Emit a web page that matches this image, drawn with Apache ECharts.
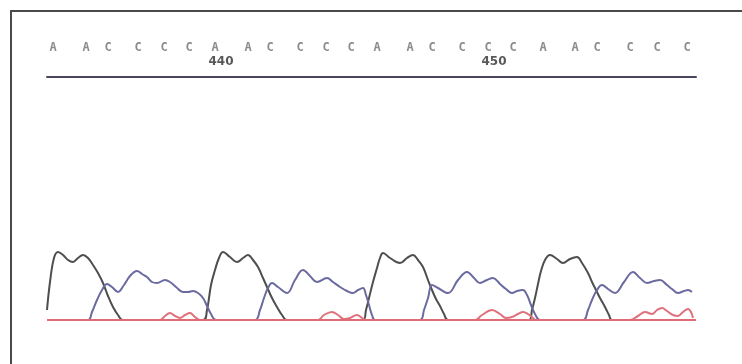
<!DOCTYPE html>
<html><head><meta charset="utf-8">
<script src="https://cdn.jsdelivr.net/npm/echarts@6/dist/echarts.min.js"></script>
<style>html,body{margin:0;padding:0;background:#fff}#c{width:742px;height:364px}</style>
</head><body><div id="c"></div>
<script>
// Base calls and their scan positions
const baseCalls = ['A','A','C','C','C','C','A','A','C','C','C','C','A','A','C','C','C','C','A','A','C','C','C','C'];
const basePos = [53,86,108,138,164,189,215,248,270,300,326,351,377,410,432,462,488,513,543,575,597,630,657,687];
const numberIdx = [6, 16];
const numberLabels = ['440', '450'];

// Trace signals [scan, intensity]
const traceA = [[47,10],[50,38],[54,62],[58,68],[63,65],[68,60],[73,58],[78,62],[83,65],[88,62],[93,55],[98,47],[103,37],[108,24],[113,13],[118,5],[123,0],
 [203,0],[207,10],[211,35],[215,50],[219,62],[223,68],[230,63],[237,58],[243,62],[248,65],[253,60],[258,53],[263,42],[267,33],[272,22],[277,13],[282,5],[287,0],
 [363,0],[366,10],[369,22],[373,38],[377,52],[380,62],[383,67],[390,62],[400,57],[407,62],[413,65],[418,60],[423,53],[428,40],[432,30],[436,21],[440,14],[444,6],[448,0],
 [529,0],[532,10],[535,22],[538,36],[541,49],[545,60],[550,65],[557,61],[563,57],[570,61],[577,63],[582,57],[588,47],[592,38],[595,32],[600,22],[605,13],[609,5],[612,0],[696,0]];
const traceC = [[47,0],[88,0],[92,8],[97,20],[102,30],[107,36],[112,33],[118,28],[124,35],[130,44],[137,49],[142,46],[147,43],[152,38],[157,37],[165,40],[170,38],[176,33],[183,28],[188,28],[193,29],[198,27],[203,22],[207,14],[211,6],[216,0],
 [255,0],[260,10],[264,22],[268,32],[272,37],[278,33],[287,27],[295,40],[303,50],[310,44],[317,38],[327,42],[333,38],[340,33],[347,29],[353,27],[358,30],[363,32],[366,25],[369,15],[372,5],[375,0],
 [420,0],[424,10],[428,22],[432,35],[438,32],[448,27],[458,40],[467,48],[474,42],[480,37],[487,40],[493,42],[500,36],[506,31],[512,27],[517,29],[523,30],[527,25],[531,15],[535,6],[540,0],
 [583,0],[588,10],[592,20],[597,30],[602,35],[608,31],[615,27],[624,38],[633,48],[640,42],[647,37],[654,39],[660,40],[667,35],[672,31],[678,27],[684,29],[688,30],[692,28]];
const traceT = [[47,0],[160,0],[165,4],[170,7],[175,4],[180,2],[185,5],[190,7],[195,3],[200,0],
 [318,0],[324,5],[332,8],[338,5],[344,1],[350,2],[357,5],[362,2],[366,0],
 [475,0],[482,5],[492,10],[500,6],[506,2],[512,3],[518,6],[523,8],[528,6],[533,2],[536,0],
 [630,0],[638,4],[645,8],[652,6],[657,10],[662,12],[667,9],[673,5],[678,4],[683,8],[688,11],[691,8],[693,2]];

const X_MIN = 47, X_MAX = 696;
const chart = echarts.init(document.getElementById('c'), null, {renderer:'canvas'});
const letterData = baseCalls.map((b,i)=>[basePos[i], 29, b]);
const numData = numberIdx.map((k,i)=>[basePos[k], 15, numberLabels[i]]);
const frameLine = {show:true, onZero:false, lineStyle:{color:'#4a4a4a', width:2}};
chart.setOption({
  animation:false,
  grid:[
    {left:11, top:11, right:0, bottom:0},
    {left:X_MIN, right:742-X_MAX, top:30, height:47},
    {left:X_MIN, right:742-X_MAX, top:76, bottom:44}
  ],
  xAxis:[
    {gridIndex:0, type:'value', position:'top', min:0, max:1, axisLine:frameLine, axisTick:{show:false}, axisLabel:{show:false}, splitLine:{show:false}},
    {gridIndex:1, type:'value', min:X_MIN, max:X_MAX, axisLine:{show:true, onZero:false, lineStyle:{color:'#4d4560', width:2}}, axisTick:{show:false}, axisLabel:{show:false}, splitLine:{show:false}},
    {gridIndex:2, type:'value', min:X_MIN, max:X_MAX, show:false}
  ],
  yAxis:[
    {gridIndex:0, type:'value', position:'left', min:0, max:1, axisLine:frameLine, axisTick:{show:false}, axisLabel:{show:false}, splitLine:{show:false}},
    {gridIndex:1, type:'value', min:0, max:47, show:false},
    {gridIndex:2, type:'value', min:0, max:244, show:false}
  ],
  series:[
    {type:'scatter', xAxisIndex:1, yAxisIndex:1, data:letterData, symbolSize:0, silent:true,
      label:{show:true, position:'inside', formatter:p=>p.data[2], color:'#6e6e6e', fontFamily:'DejaVu Sans Mono', fontWeight:'bold', fontSize:12}},
    {type:'scatter', xAxisIndex:1, yAxisIndex:1, data:numData, symbolSize:0, silent:true,
      label:{show:true, position:'inside', offset:[6,0], formatter:p=>p.data[2], color:'#2e2e2e', fontFamily:'DejaVu Sans', fontWeight:'bold', fontSize:12}},
    {name:'A', type:'line', xAxisIndex:2, yAxisIndex:2, data:traceA, smooth:0.4, showSymbol:false, lineStyle:{color:'#4e4e4e', width:2}},
    {name:'C', type:'line', xAxisIndex:2, yAxisIndex:2, data:traceC, smooth:0.4, showSymbol:false, lineStyle:{color:'#6a6aa0', width:2}},
    {name:'T', type:'line', xAxisIndex:2, yAxisIndex:2, data:traceT, smooth:0.4, showSymbol:false, lineStyle:{color:'#e0707a', width:2},
      markLine:{silent:true, symbol:'none', label:{show:false}, lineStyle:{color:'#e06a76', width:2, type:'solid'}, data:[{yAxis:0}]}}
  ]
});
</script></body></html>
